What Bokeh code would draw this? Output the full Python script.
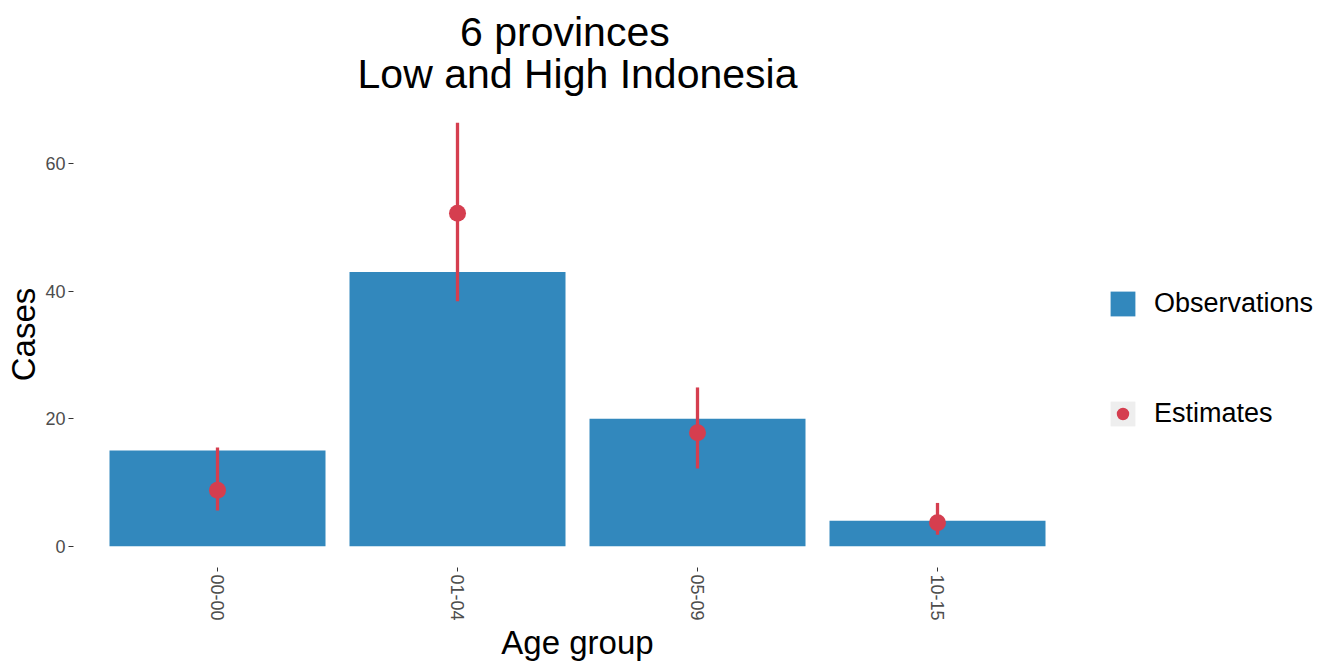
import math
from bokeh.plotting import figure
from bokeh.models import Range1d, Legend, LegendItem, Title, FixedTicker
from bokeh.embed import file_html
from bokeh.resources import INLINE

# ---- data ----
age_groups = ["00-00", "01-04", "05-09", "10-15"]
observations = [15, 43, 20, 4]
estimates = [8.8, 52.2, 17.8, 3.7]
est_lower = [5.6, 38.4, 12.2, 1.8]
est_upper = [15.5, 66.4, 24.9, 6.8]
y_ticks = [0, 20, 40, 60]

title_lines = ["6 provinces", "Low and High Indonesia"]
x_label = "Age group"
y_label = "Cases"
legend_labels = ["Observations", "Estimates"]

BLUE = "#3288BD"
RED = "#D53E4F"
KEY_BG = "#EEEEEE"
FONT = "Liberation Sans"

# discrete positions 1..n for the age groups (ggplot-style discrete scale)
xpos = list(range(1, len(age_groups) + 1))
ymax = max(est_upper + observations)
pad = 0.05 * ymax

p = figure(
    x_range=Range1d(0.4, len(age_groups) + 0.6),
    y_range=Range1d(-pad, ymax + pad),
    frame_width=1008, frame_height=466,
    min_border_left=73, min_border_right=233, min_border_top=101, min_border_bottom=80,
    output_backend="svg", toolbar_location=None,
    background_fill_color="white", border_fill_color="white",
)
p.outline_line_color = None
p.xgrid.grid_line_color = None
p.ygrid.grid_line_color = None

bars = p.vbar(x=xpos, top=observations, bottom=0, width=0.9,
              fill_color=BLUE, line_color=None)
segs = p.segment(x0=xpos, y0=est_lower, x1=xpos, y1=est_upper,
                 line_color=RED, line_width=3.3)
pts = p.scatter(x=xpos, y=estimates, size=17, fill_color=RED, line_color=None)

# legend-key background helper, placed outside the visible x range
off = len(age_groups) + 50
key_bg = p.rect(x=[off], y=[0], width=0.1, height=1, fill_color=KEY_BG, line_color=None)

# two-line title; non-breaking spaces centre the short first line over the second
indent = "\u00a0" * 9
title = Title(text=indent + title_lines[0] + "\n" + title_lines[1], align="center",
              text_font=FONT, text_font_size="41px", text_font_style="normal",
              text_color="black", text_line_height=0.93, standoff=8, offset=6)
p.add_layout(title, "above")

# axes
for ax in (p.xaxis[0], p.yaxis[0]):
    ax.axis_line_color = None
    ax.major_tick_in = 0
    ax.minor_tick_line_color = None
    ax.major_tick_line_color = "#333333"
    ax.major_tick_line_width = 1
    ax.major_label_text_font = FONT
    ax.major_label_text_font_size = "18px"
    ax.major_label_text_color = "#4D4D4D"
    ax.axis_label_text_font = FONT
    ax.axis_label_text_font_size = "33px"
    ax.axis_label_text_font_style = "normal"
    ax.axis_label_text_color = "black"
    ax.axis_label_standoff = 0

p.yaxis[0].ticker = FixedTicker(ticks=y_ticks)
p.yaxis[0].major_tick_out = 5
p.yaxis[0].major_label_standoff = 3
p.yaxis[0].axis_label = y_label

p.xaxis[0].ticker = FixedTicker(ticks=xpos)
p.xaxis[0].major_label_overrides = {x: g for x, g in zip(xpos, age_groups)}
p.xaxis[0].major_tick_out = 4
p.xaxis[0].major_label_standoff = 3
p.xaxis[0].major_label_orientation = -math.pi / 2
p.xaxis[0].axis_label = x_label

legend = Legend(
    items=[LegendItem(label=legend_labels[0], renderers=[bars]),
           LegendItem(label=legend_labels[1], renderers=[key_bg, pts])],
    location=(26, 138), orientation="vertical",
    glyph_width=31, glyph_height=31, label_height=31, spacing=79,
    label_text_font=FONT, label_text_font_size="27px", label_text_color="black",
    label_standoff=16, padding=10, margin=0,
    border_line_color=None, background_fill_color="white", background_fill_alpha=0,
)
p.add_layout(legend, "right")

open("out.html", "w").write(file_html(p, INLINE))
